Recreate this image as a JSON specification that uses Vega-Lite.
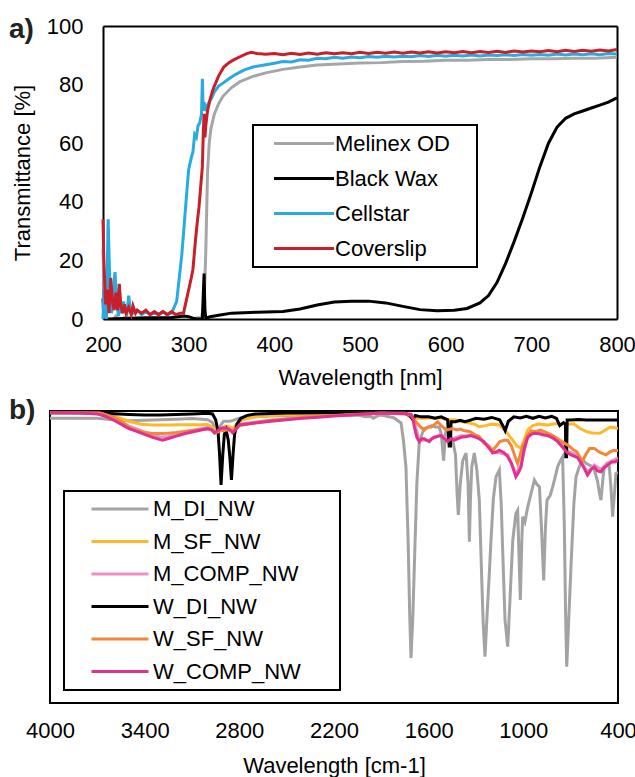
{
  "$schema": "https://vega.github.io/schema/vega-lite/v6.json",
  "padding": {"left": 8, "top": 15, "right": 0, "bottom": 0},
  "background": "white",
  "spacing": 8,
  "resolve": {"scale": {"color": "independent"}},
  "config": {
    "view": {"stroke": "black", "strokeWidth": 2},
    "font": "Liberation Sans",
    "axis": {"domain": false, "ticks": false, "grid": false, "labelFlush": false, "labelOverlap": false, "labelFont": "Liberation Sans", "labelFontSize": 22, "labelColor": "black", "titleFont": "Liberation Sans", "titleFontSize": 22, "titleFontWeight": "normal", "titleColor": "black"},
    "legend": {"labelFont": "Liberation Sans", "labelFontSize": 22, "labelColor": "black"}
  },
  "datasets": {
    "uv": [
      {"s":"Melinex OD","x":200,"t":24},{"s":"Melinex OD","x":202,"t":2},{"s":"Melinex OD","x":205,"t":0},{"s":"Melinex OD","x":210,"t":-1},{"s":"Melinex OD","x":215,"t":1},{"s":"Melinex OD","x":220,"t":-1},{"s":"Melinex OD","x":225,"t":0.5},{"s":"Melinex OD","x":240,"t":0},{"s":"Melinex OD","x":270,"t":0.3},{"s":"Melinex OD","x":300,"t":0},{"s":"Melinex OD","x":315,"t":0.5},{"s":"Melinex OD","x":318,"t":5},{"s":"Melinex OD","x":320,"t":23},{"s":"Melinex OD","x":322,"t":50},{"s":"Melinex OD","x":324,"t":60},{"s":"Melinex OD","x":326,"t":65},{"s":"Melinex OD","x":330,"t":70},{"s":"Melinex OD","x":335,"t":73.5},{"s":"Melinex OD","x":340,"t":76},{"s":"Melinex OD","x":350,"t":79},{"s":"Melinex OD","x":360,"t":81},{"s":"Melinex OD","x":375,"t":82.8},{"s":"Melinex OD","x":390,"t":84},{"s":"Melinex OD","x":410,"t":85.2},{"s":"Melinex OD","x":430,"t":86},{"s":"Melinex OD","x":450,"t":86.7},{"s":"Melinex OD","x":475,"t":87},{"s":"Melinex OD","x":500,"t":87.4},{"s":"Melinex OD","x":525,"t":87.5},{"s":"Melinex OD","x":550,"t":87.9},{"s":"Melinex OD","x":575,"t":88},{"s":"Melinex OD","x":600,"t":88.3},{"s":"Melinex OD","x":625,"t":88.3},{"s":"Melinex OD","x":650,"t":88.6},{"s":"Melinex OD","x":675,"t":88.6},{"s":"Melinex OD","x":700,"t":88.8},{"s":"Melinex OD","x":725,"t":88.8},{"s":"Melinex OD","x":750,"t":89},{"s":"Melinex OD","x":775,"t":89},{"s":"Melinex OD","x":800,"t":89.3},
      {"s":"Black Wax","x":200,"t":7},{"s":"Black Wax","x":201,"t":0},{"s":"Black Wax","x":205,"t":0},{"s":"Black Wax","x":250,"t":0.4},{"s":"Black Wax","x":280,"t":0.5},{"s":"Black Wax","x":295,"t":1},{"s":"Black Wax","x":300,"t":0.8},{"s":"Black Wax","x":305,"t":0.3},{"s":"Black Wax","x":310,"t":0},{"s":"Black Wax","x":316,"t":0},{"s":"Black Wax","x":317,"t":8},{"s":"Black Wax","x":318,"t":15.5},{"s":"Black Wax","x":319,"t":3},{"s":"Black Wax","x":320,"t":0.2},{"s":"Black Wax","x":325,"t":0.8},{"s":"Black Wax","x":335,"t":1.3},{"s":"Black Wax","x":350,"t":2},{"s":"Black Wax","x":380,"t":2.3},{"s":"Black Wax","x":410,"t":2.6},{"s":"Black Wax","x":430,"t":3.4},{"s":"Black Wax","x":450,"t":4.8},{"s":"Black Wax","x":470,"t":5.8},{"s":"Black Wax","x":490,"t":6.1},{"s":"Black Wax","x":510,"t":6.1},{"s":"Black Wax","x":530,"t":5.5},{"s":"Black Wax","x":550,"t":4.3},{"s":"Black Wax","x":570,"t":3.2},{"s":"Black Wax","x":590,"t":2.8},{"s":"Black Wax","x":610,"t":3},{"s":"Black Wax","x":625,"t":3.6},{"s":"Black Wax","x":640,"t":5.5},{"s":"Black Wax","x":650,"t":8},{"s":"Black Wax","x":660,"t":12.5},{"s":"Black Wax","x":670,"t":19},{"s":"Black Wax","x":680,"t":26.5},{"s":"Black Wax","x":690,"t":34.5},{"s":"Black Wax","x":700,"t":43},{"s":"Black Wax","x":710,"t":52},{"s":"Black Wax","x":720,"t":60},{"s":"Black Wax","x":730,"t":65.5},{"s":"Black Wax","x":740,"t":68.5},{"s":"Black Wax","x":750,"t":70},{"s":"Black Wax","x":760,"t":71},{"s":"Black Wax","x":770,"t":72},{"s":"Black Wax","x":780,"t":73},{"s":"Black Wax","x":790,"t":74},{"s":"Black Wax","x":800,"t":75.5},
      {"s":"Cellstar","x":200,"t":0},{"s":"Cellstar","x":201,"t":10},{"s":"Cellstar","x":202,"t":3},{"s":"Cellstar","x":204,"t":0},{"s":"Cellstar","x":206,"t":34},{"s":"Cellstar","x":208,"t":12},{"s":"Cellstar","x":210,"t":2},{"s":"Cellstar","x":212,"t":10},{"s":"Cellstar","x":214,"t":16},{"s":"Cellstar","x":216,"t":6},{"s":"Cellstar","x":218,"t":1},{"s":"Cellstar","x":220,"t":5},{"s":"Cellstar","x":222,"t":2},{"s":"Cellstar","x":224,"t":6},{"s":"Cellstar","x":226,"t":3},{"s":"Cellstar","x":228,"t":2},{"s":"Cellstar","x":230,"t":8},{"s":"Cellstar","x":232,"t":3},{"s":"Cellstar","x":235,"t":2},{"s":"Cellstar","x":240,"t":3},{"s":"Cellstar","x":245,"t":1.5},{"s":"Cellstar","x":250,"t":2.5},{"s":"Cellstar","x":255,"t":1.5},{"s":"Cellstar","x":260,"t":2},{"s":"Cellstar","x":265,"t":1.5},{"s":"Cellstar","x":270,"t":2.5},{"s":"Cellstar","x":275,"t":1.5},{"s":"Cellstar","x":280,"t":2},{"s":"Cellstar","x":283,"t":4},{"s":"Cellstar","x":286,"t":6},{"s":"Cellstar","x":289,"t":14},{"s":"Cellstar","x":292,"t":22},{"s":"Cellstar","x":295,"t":33},{"s":"Cellstar","x":298,"t":44},{"s":"Cellstar","x":300,"t":51},{"s":"Cellstar","x":303,"t":55},{"s":"Cellstar","x":305,"t":57},{"s":"Cellstar","x":307,"t":63},{"s":"Cellstar","x":309,"t":62},{"s":"Cellstar","x":311,"t":66},{"s":"Cellstar","x":313,"t":67},{"s":"Cellstar","x":315,"t":70},{"s":"Cellstar","x":316,"t":82},{"s":"Cellstar","x":317,"t":71},{"s":"Cellstar","x":318,"t":74},{"s":"Cellstar","x":320,"t":71},{"s":"Cellstar","x":322,"t":73},{"s":"Cellstar","x":326,"t":75},{"s":"Cellstar","x":330,"t":77.5},{"s":"Cellstar","x":335,"t":79.5},{"s":"Cellstar","x":340,"t":80.5},{"s":"Cellstar","x":347,"t":82},{"s":"Cellstar","x":355,"t":83.5},{"s":"Cellstar","x":365,"t":85},{"s":"Cellstar","x":375,"t":86},{"s":"Cellstar","x":390,"t":86.8},{"s":"Cellstar","x":400,"t":87.3},{"s":"Cellstar","x":410,"t":87.9},{"s":"Cellstar","x":420,"t":87.7},{"s":"Cellstar","x":430,"t":88.5},{"s":"Cellstar","x":440,"t":88.3},{"s":"Cellstar","x":450,"t":89},{"s":"Cellstar","x":460,"t":88.8},{"s":"Cellstar","x":470,"t":89.3},{"s":"Cellstar","x":480,"t":89},{"s":"Cellstar","x":490,"t":89.4},{"s":"Cellstar","x":500,"t":89.2},{"s":"Cellstar","x":510,"t":89.6},{"s":"Cellstar","x":520,"t":89.3},{"s":"Cellstar","x":530,"t":89.7},{"s":"Cellstar","x":540,"t":89.4},{"s":"Cellstar","x":550,"t":89.7},{"s":"Cellstar","x":560,"t":89.5},{"s":"Cellstar","x":570,"t":89.9},{"s":"Cellstar","x":580,"t":89.6},{"s":"Cellstar","x":590,"t":90},{"s":"Cellstar","x":600,"t":89.7},{"s":"Cellstar","x":610,"t":90},{"s":"Cellstar","x":620,"t":89.8},{"s":"Cellstar","x":630,"t":90.1},{"s":"Cellstar","x":640,"t":89.8},{"s":"Cellstar","x":650,"t":90.1},{"s":"Cellstar","x":660,"t":89.9},{"s":"Cellstar","x":670,"t":90.2},{"s":"Cellstar","x":680,"t":89.9},{"s":"Cellstar","x":690,"t":90.3},{"s":"Cellstar","x":700,"t":90},{"s":"Cellstar","x":710,"t":90.3},{"s":"Cellstar","x":720,"t":90},{"s":"Cellstar","x":730,"t":90.4},{"s":"Cellstar","x":740,"t":90.1},{"s":"Cellstar","x":750,"t":90.4},{"s":"Cellstar","x":760,"t":90.2},{"s":"Cellstar","x":770,"t":90.5},{"s":"Cellstar","x":780,"t":90.2},{"s":"Cellstar","x":790,"t":90.6},{"s":"Cellstar","x":800,"t":90.4},
      {"s":"Coverslip","x":200,"t":34},{"s":"Coverslip","x":201,"t":20},{"s":"Coverslip","x":203,"t":5},{"s":"Coverslip","x":205,"t":10},{"s":"Coverslip","x":207,"t":2},{"s":"Coverslip","x":209,"t":14},{"s":"Coverslip","x":211,"t":6},{"s":"Coverslip","x":213,"t":3},{"s":"Coverslip","x":215,"t":9},{"s":"Coverslip","x":217,"t":3},{"s":"Coverslip","x":219,"t":12},{"s":"Coverslip","x":221,"t":4},{"s":"Coverslip","x":223,"t":2},{"s":"Coverslip","x":225,"t":5},{"s":"Coverslip","x":227,"t":2},{"s":"Coverslip","x":230,"t":4},{"s":"Coverslip","x":233,"t":1.5},{"s":"Coverslip","x":235,"t":4.5},{"s":"Coverslip","x":238,"t":2},{"s":"Coverslip","x":240,"t":3},{"s":"Coverslip","x":245,"t":2},{"s":"Coverslip","x":250,"t":3},{"s":"Coverslip","x":255,"t":1.5},{"s":"Coverslip","x":260,"t":2.5},{"s":"Coverslip","x":265,"t":1.5},{"s":"Coverslip","x":270,"t":2.5},{"s":"Coverslip","x":275,"t":1.5},{"s":"Coverslip","x":280,"t":2.5},{"s":"Coverslip","x":285,"t":1.5},{"s":"Coverslip","x":290,"t":2},{"s":"Coverslip","x":294,"t":2},{"s":"Coverslip","x":297,"t":6},{"s":"Coverslip","x":300,"t":10},{"s":"Coverslip","x":303,"t":14},{"s":"Coverslip","x":305,"t":17},{"s":"Coverslip","x":308,"t":27},{"s":"Coverslip","x":310,"t":33},{"s":"Coverslip","x":312,"t":38},{"s":"Coverslip","x":314,"t":45},{"s":"Coverslip","x":316,"t":52},{"s":"Coverslip","x":317,"t":63},{"s":"Coverslip","x":318,"t":70},{"s":"Coverslip","x":319,"t":62},{"s":"Coverslip","x":320,"t":66},{"s":"Coverslip","x":322,"t":71},{"s":"Coverslip","x":325,"t":75},{"s":"Coverslip","x":328,"t":78},{"s":"Coverslip","x":330,"t":79.5},{"s":"Coverslip","x":335,"t":83},{"s":"Coverslip","x":341,"t":86},{"s":"Coverslip","x":347,"t":87.5},{"s":"Coverslip","x":353,"t":88.5},{"s":"Coverslip","x":360,"t":89.5},{"s":"Coverslip","x":367,"t":90.5},{"s":"Coverslip","x":373,"t":91},{"s":"Coverslip","x":380,"t":90.6},{"s":"Coverslip","x":390,"t":90.4},{"s":"Coverslip","x":400,"t":90.6},{"s":"Coverslip","x":410,"t":90.2},{"s":"Coverslip","x":420,"t":90.7},{"s":"Coverslip","x":430,"t":90.3},{"s":"Coverslip","x":440,"t":90.8},{"s":"Coverslip","x":450,"t":90.4},{"s":"Coverslip","x":460,"t":90.9},{"s":"Coverslip","x":470,"t":90.5},{"s":"Coverslip","x":480,"t":90.9},{"s":"Coverslip","x":490,"t":90.5},{"s":"Coverslip","x":500,"t":91},{"s":"Coverslip","x":510,"t":90.6},{"s":"Coverslip","x":520,"t":91},{"s":"Coverslip","x":530,"t":90.7},{"s":"Coverslip","x":540,"t":91.1},{"s":"Coverslip","x":550,"t":90.7},{"s":"Coverslip","x":560,"t":91.1},{"s":"Coverslip","x":570,"t":90.8},{"s":"Coverslip","x":580,"t":91.2},{"s":"Coverslip","x":590,"t":90.8},{"s":"Coverslip","x":600,"t":91.2},{"s":"Coverslip","x":610,"t":90.9},{"s":"Coverslip","x":620,"t":91.3},{"s":"Coverslip","x":630,"t":90.9},{"s":"Coverslip","x":640,"t":91.3},{"s":"Coverslip","x":650,"t":91},{"s":"Coverslip","x":660,"t":91.4},{"s":"Coverslip","x":670,"t":91},{"s":"Coverslip","x":680,"t":91.5},{"s":"Coverslip","x":690,"t":91.1},{"s":"Coverslip","x":700,"t":91.5},{"s":"Coverslip","x":710,"t":91.2},{"s":"Coverslip","x":720,"t":91.6},{"s":"Coverslip","x":730,"t":91.2},{"s":"Coverslip","x":740,"t":91.7},{"s":"Coverslip","x":750,"t":91.3},{"s":"Coverslip","x":760,"t":91.7},{"s":"Coverslip","x":770,"t":91.4},{"s":"Coverslip","x":780,"t":91.8},{"s":"Coverslip","x":790,"t":91.5},{"s":"Coverslip","x":800,"t":92}
    ],
    "ir": [
      {"s":"M_DI_NW","w":4000,"t":97.5},{"s":"M_DI_NW","w":3900,"t":97.5},{"s":"M_DI_NW","w":3700,"t":97.5},{"s":"M_DI_NW","w":3600,"t":97},{"s":"M_DI_NW","w":3500,"t":96.7},{"s":"M_DI_NW","w":3400,"t":96.8},{"s":"M_DI_NW","w":3300,"t":97},{"s":"M_DI_NW","w":3200,"t":97.2},{"s":"M_DI_NW","w":3100,"t":97.4},{"s":"M_DI_NW","w":3000,"t":97},{"s":"M_DI_NW","w":2970,"t":96},{"s":"M_DI_NW","w":2950,"t":93},{"s":"M_DI_NW","w":2935,"t":92.5},{"s":"M_DI_NW","w":2920,"t":95},{"s":"M_DI_NW","w":2900,"t":96.5},{"s":"M_DI_NW","w":2860,"t":96.5},{"s":"M_DI_NW","w":2840,"t":96.8},{"s":"M_DI_NW","w":2800,"t":97.5},{"s":"M_DI_NW","w":2700,"t":98},{"s":"M_DI_NW","w":2600,"t":98.3},{"s":"M_DI_NW","w":2500,"t":98.5},{"s":"M_DI_NW","w":2400,"t":98.6},{"s":"M_DI_NW","w":2300,"t":98.7},{"s":"M_DI_NW","w":2200,"t":98.8},{"s":"M_DI_NW","w":2100,"t":98.5},{"s":"M_DI_NW","w":2050,"t":98.6},{"s":"M_DI_NW","w":2000,"t":98},{"s":"M_DI_NW","w":1970,"t":98.2},{"s":"M_DI_NW","w":1950,"t":97.5},{"s":"M_DI_NW","w":1920,"t":98.5},{"s":"M_DI_NW","w":1902,"t":98.6},{"s":"M_DI_NW","w":1850,"t":98},{"s":"M_DI_NW","w":1818,"t":97.6},{"s":"M_DI_NW","w":1790,"t":96.5},{"s":"M_DI_NW","w":1775,"t":95.9},{"s":"M_DI_NW","w":1760,"t":90},{"s":"M_DI_NW","w":1744,"t":80.8},{"s":"M_DI_NW","w":1730,"t":55},{"s":"M_DI_NW","w":1720,"t":30},{"s":"M_DI_NW","w":1712,"t":15.4},{"s":"M_DI_NW","w":1700,"t":30},{"s":"M_DI_NW","w":1691,"t":46.6},{"s":"M_DI_NW","w":1675,"t":75},{"s":"M_DI_NW","w":1660,"t":89},{"s":"M_DI_NW","w":1640,"t":92.5},{"s":"M_DI_NW","w":1628,"t":94},{"s":"M_DI_NW","w":1600,"t":94.5},{"s":"M_DI_NW","w":1580,"t":95},{"s":"M_DI_NW","w":1560,"t":94.5},{"s":"M_DI_NW","w":1533,"t":94.5},{"s":"M_DI_NW","w":1520,"t":92},{"s":"M_DI_NW","w":1505,"t":83},{"s":"M_DI_NW","w":1495,"t":91},{"s":"M_DI_NW","w":1490,"t":93.5},{"s":"M_DI_NW","w":1470,"t":92},{"s":"M_DI_NW","w":1448,"t":90},{"s":"M_DI_NW","w":1430,"t":85},{"s":"M_DI_NW","w":1420,"t":72},{"s":"M_DI_NW","w":1412,"t":64.4},{"s":"M_DI_NW","w":1400,"t":75},{"s":"M_DI_NW","w":1384,"t":83},{"s":"M_DI_NW","w":1363,"t":85.6},{"s":"M_DI_NW","w":1350,"t":75},{"s":"M_DI_NW","w":1342,"t":55.2},{"s":"M_DI_NW","w":1335,"t":70},{"s":"M_DI_NW","w":1327,"t":80.8},{"s":"M_DI_NW","w":1311,"t":85.6},{"s":"M_DI_NW","w":1295,"t":80},{"s":"M_DI_NW","w":1279,"t":69.5},{"s":"M_DI_NW","w":1265,"t":45},{"s":"M_DI_NW","w":1255,"t":28},{"s":"M_DI_NW","w":1243,"t":15.9},{"s":"M_DI_NW","w":1230,"t":30},{"s":"M_DI_NW","w":1215,"t":45},{"s":"M_DI_NW","w":1205,"t":55.8},{"s":"M_DI_NW","w":1190,"t":70},{"s":"M_DI_NW","w":1173,"t":77.5},{"s":"M_DI_NW","w":1152,"t":79.8},{"s":"M_DI_NW","w":1140,"t":68},{"s":"M_DI_NW","w":1131,"t":52.4},{"s":"M_DI_NW","w":1116,"t":28.4},{"s":"M_DI_NW","w":1099,"t":19.3},{"s":"M_DI_NW","w":1085,"t":35},{"s":"M_DI_NW","w":1067,"t":55.8},{"s":"M_DI_NW","w":1047,"t":65},{"s":"M_DI_NW","w":1036,"t":66},{"s":"M_DI_NW","w":1027,"t":50},{"s":"M_DI_NW","w":1019,"t":35.3},{"s":"M_DI_NW","w":1010,"t":55},{"s":"M_DI_NW","w":1004,"t":63.8},{"s":"M_DI_NW","w":990,"t":62},{"s":"M_DI_NW","w":972,"t":67.2},{"s":"M_DI_NW","w":950,"t":72},{"s":"M_DI_NW","w":930,"t":76.4},{"s":"M_DI_NW","w":915,"t":75},{"s":"M_DI_NW","w":898,"t":74},{"s":"M_DI_NW","w":885,"t":60},{"s":"M_DI_NW","w":871,"t":42},{"s":"M_DI_NW","w":860,"t":60},{"s":"M_DI_NW","w":850,"t":69.5},{"s":"M_DI_NW","w":830,"t":71},{"s":"M_DI_NW","w":814,"t":74},{"s":"M_DI_NW","w":800,"t":77},{"s":"M_DI_NW","w":782,"t":81},{"s":"M_DI_NW","w":765,"t":83},{"s":"M_DI_NW","w":751,"t":84.3},{"s":"M_DI_NW","w":740,"t":60},{"s":"M_DI_NW","w":732,"t":30},{"s":"M_DI_NW","w":725,"t":12.4},{"s":"M_DI_NW","w":715,"t":25},{"s":"M_DI_NW","w":698,"t":46.7},{"s":"M_DI_NW","w":680,"t":68},{"s":"M_DI_NW","w":666,"t":77.5},{"s":"M_DI_NW","w":645,"t":81},{"s":"M_DI_NW","w":624,"t":83.2},{"s":"M_DI_NW","w":600,"t":82},{"s":"M_DI_NW","w":582,"t":81.5},{"s":"M_DI_NW","w":565,"t":81},{"s":"M_DI_NW","w":550,"t":79.8},{"s":"M_DI_NW","w":530,"t":76},{"s":"M_DI_NW","w":518,"t":72},{"s":"M_DI_NW","w":508,"t":69.5},{"s":"M_DI_NW","w":497,"t":76},{"s":"M_DI_NW","w":487,"t":81},{"s":"M_DI_NW","w":470,"t":82},{"s":"M_DI_NW","w":455,"t":81},{"s":"M_DI_NW","w":445,"t":74},{"s":"M_DI_NW","w":434,"t":63.8},{"s":"M_DI_NW","w":425,"t":70},{"s":"M_DI_NW","w":413,"t":78.6},{"s":"M_DI_NW","w":400,"t":79},
      {"s":"M_SF_NW","w":4000,"t":99.4},{"s":"M_SF_NW","w":3700,"t":99.3},{"s":"M_SF_NW","w":3600,"t":98.5},{"s":"M_SF_NW","w":3571,"t":97.8},{"s":"M_SF_NW","w":3500,"t":96.5},{"s":"M_SF_NW","w":3423,"t":95.5},{"s":"M_SF_NW","w":3350,"t":95.2},{"s":"M_SF_NW","w":3250,"t":95.2},{"s":"M_SF_NW","w":3150,"t":95.3},{"s":"M_SF_NW","w":3050,"t":95.3},{"s":"M_SF_NW","w":3000,"t":95.4},{"s":"M_SF_NW","w":2960,"t":94},{"s":"M_SF_NW","w":2935,"t":92.5},{"s":"M_SF_NW","w":2915,"t":93.5},{"s":"M_SF_NW","w":2890,"t":94.8},{"s":"M_SF_NW","w":2860,"t":94.5},{"s":"M_SF_NW","w":2840,"t":94},{"s":"M_SF_NW","w":2820,"t":95.5},{"s":"M_SF_NW","w":2780,"t":97},{"s":"M_SF_NW","w":2700,"t":98},{"s":"M_SF_NW","w":2600,"t":98.5},{"s":"M_SF_NW","w":2400,"t":99},{"s":"M_SF_NW","w":2200,"t":99.2},{"s":"M_SF_NW","w":1902,"t":99.3},{"s":"M_SF_NW","w":1750,"t":99.2},{"s":"M_SF_NW","w":1720,"t":98},{"s":"M_SF_NW","w":1691,"t":97.6},{"s":"M_SF_NW","w":1650,"t":97.5},{"s":"M_SF_NW","w":1585,"t":97.6},{"s":"M_SF_NW","w":1520,"t":97.6},{"s":"M_SF_NW","w":1480,"t":97},{"s":"M_SF_NW","w":1437,"t":97},{"s":"M_SF_NW","w":1400,"t":96.5},{"s":"M_SF_NW","w":1350,"t":96},{"s":"M_SF_NW","w":1310,"t":95.5},{"s":"M_SF_NW","w":1279,"t":94.6},{"s":"M_SF_NW","w":1240,"t":95},{"s":"M_SF_NW","w":1200,"t":95.5},{"s":"M_SF_NW","w":1152,"t":95.2},{"s":"M_SF_NW","w":1110,"t":93},{"s":"M_SF_NW","w":1068,"t":90},{"s":"M_SF_NW","w":1040,"t":88},{"s":"M_SF_NW","w":1015,"t":87.3},{"s":"M_SF_NW","w":995,"t":90},{"s":"M_SF_NW","w":972,"t":93.5},{"s":"M_SF_NW","w":940,"t":95},{"s":"M_SF_NW","w":900,"t":95.5},{"s":"M_SF_NW","w":846,"t":95.2},{"s":"M_SF_NW","w":800,"t":95.6},{"s":"M_SF_NW","w":769,"t":95.6},{"s":"M_SF_NW","w":720,"t":95.5},{"s":"M_SF_NW","w":681,"t":95.6},{"s":"M_SF_NW","w":640,"t":94},{"s":"M_SF_NW","w":597,"t":92.9},{"s":"M_SF_NW","w":560,"t":92.5},{"s":"M_SF_NW","w":513,"t":92.4},{"s":"M_SF_NW","w":480,"t":93.5},{"s":"M_SF_NW","w":450,"t":94.5},{"s":"M_SF_NW","w":420,"t":94.3},{"s":"M_SF_NW","w":400,"t":94},
      {"s":"M_COMP_NW","w":4000,"t":99.5},{"s":"M_COMP_NW","w":3800,"t":99.4},{"s":"M_COMP_NW","w":3700,"t":99.1},{"s":"M_COMP_NW","w":3600,"t":97.5},{"s":"M_COMP_NW","w":3500,"t":94.8},{"s":"M_COMP_NW","w":3400,"t":92.8},{"s":"M_COMP_NW","w":3300,"t":91},{"s":"M_COMP_NW","w":3250,"t":91.3},{"s":"M_COMP_NW","w":3150,"t":92.8},{"s":"M_COMP_NW","w":3000,"t":94.4},{"s":"M_COMP_NW","w":2958,"t":93},{"s":"M_COMP_NW","w":2900,"t":94.5},{"s":"M_COMP_NW","w":2842,"t":93},{"s":"M_COMP_NW","w":2800,"t":95.5},{"s":"M_COMP_NW","w":2600,"t":96.8},{"s":"M_COMP_NW","w":2400,"t":97.8},{"s":"M_COMP_NW","w":2200,"t":98.5},{"s":"M_COMP_NW","w":2000,"t":99.1},{"s":"M_COMP_NW","w":1750,"t":99.2},{"s":"M_COMP_NW","w":1700,"t":97.8},{"s":"M_COMP_NW","w":1660,"t":90},{"s":"M_COMP_NW","w":1596,"t":90},{"s":"M_COMP_NW","w":1522,"t":92},{"s":"M_COMP_NW","w":1480,"t":90},{"s":"M_COMP_NW","w":1395,"t":91.5},{"s":"M_COMP_NW","w":1300,"t":91.5},{"s":"M_COMP_NW","w":1226,"t":88.3},{"s":"M_COMP_NW","w":1194,"t":86.2},{"s":"M_COMP_NW","w":1099,"t":85},{"s":"M_COMP_NW","w":1047,"t":78.5},{"s":"M_COMP_NW","w":1015,"t":81.5},{"s":"M_COMP_NW","w":972,"t":91.5},{"s":"M_COMP_NW","w":930,"t":92.8},{"s":"M_COMP_NW","w":846,"t":92},{"s":"M_COMP_NW","w":782,"t":90},{"s":"M_COMP_NW","w":719,"t":86.3},{"s":"M_COMP_NW","w":656,"t":84.7},{"s":"M_COMP_NW","w":593,"t":79},{"s":"M_COMP_NW","w":550,"t":81.5},{"s":"M_COMP_NW","w":508,"t":80},{"s":"M_COMP_NW","w":466,"t":82.2},{"s":"M_COMP_NW","w":400,"t":84},
      {"s":"W_DI_NW","w":4000,"t":99.4},{"s":"W_DI_NW","w":3800,"t":99.4},{"s":"W_DI_NW","w":3650,"t":99.2},{"s":"W_DI_NW","w":3500,"t":98.8},{"s":"W_DI_NW","w":3400,"t":98.6},{"s":"W_DI_NW","w":3300,"t":98.6},{"s":"W_DI_NW","w":3200,"t":98.8},{"s":"W_DI_NW","w":3100,"t":99},{"s":"W_DI_NW","w":3000,"t":99.2},{"s":"W_DI_NW","w":2970,"t":99},{"s":"W_DI_NW","w":2950,"t":97},{"s":"W_DI_NW","w":2935,"t":93},{"s":"W_DI_NW","w":2925,"t":85},{"s":"W_DI_NW","w":2916,"t":74.7},{"s":"W_DI_NW","w":2905,"t":85},{"s":"W_DI_NW","w":2895,"t":92},{"s":"W_DI_NW","w":2884,"t":93.5},{"s":"W_DI_NW","w":2870,"t":90},{"s":"W_DI_NW","w":2860,"t":84},{"s":"W_DI_NW","w":2850,"t":76.4},{"s":"W_DI_NW","w":2840,"t":85},{"s":"W_DI_NW","w":2830,"t":92},{"s":"W_DI_NW","w":2815,"t":95.5},{"s":"W_DI_NW","w":2790,"t":97.5},{"s":"W_DI_NW","w":2750,"t":98.5},{"s":"W_DI_NW","w":2700,"t":99},{"s":"W_DI_NW","w":2500,"t":99.3},{"s":"W_DI_NW","w":2200,"t":99.4},{"s":"W_DI_NW","w":1902,"t":99.3},{"s":"W_DI_NW","w":1750,"t":99.2},{"s":"W_DI_NW","w":1720,"t":98.5},{"s":"W_DI_NW","w":1700,"t":97},{"s":"W_DI_NW","w":1685,"t":98.5},{"s":"W_DI_NW","w":1650,"t":98},{"s":"W_DI_NW","w":1600,"t":98},{"s":"W_DI_NW","w":1560,"t":97.5},{"s":"W_DI_NW","w":1520,"t":98},{"s":"W_DI_NW","w":1500,"t":97.5},{"s":"W_DI_NW","w":1480,"t":97},{"s":"W_DI_NW","w":1470,"t":88},{"s":"W_DI_NW","w":1462,"t":88},{"s":"W_DI_NW","w":1458,"t":96.3},{"s":"W_DI_NW","w":1430,"t":96.3},{"s":"W_DI_NW","w":1400,"t":96.8},{"s":"W_DI_NW","w":1370,"t":96.3},{"s":"W_DI_NW","w":1340,"t":96.8},{"s":"W_DI_NW","w":1300,"t":97.5},{"s":"W_DI_NW","w":1250,"t":97.2},{"s":"W_DI_NW","w":1200,"t":97.8},{"s":"W_DI_NW","w":1150,"t":97},{"s":"W_DI_NW","w":1125,"t":94.5},{"s":"W_DI_NW","w":1115,"t":93.3},{"s":"W_DI_NW","w":1095,"t":96.5},{"s":"W_DI_NW","w":1060,"t":98},{"s":"W_DI_NW","w":1020,"t":97.6},{"s":"W_DI_NW","w":980,"t":98.2},{"s":"W_DI_NW","w":940,"t":97.5},{"s":"W_DI_NW","w":900,"t":98.2},{"s":"W_DI_NW","w":860,"t":97.6},{"s":"W_DI_NW","w":820,"t":98.2},{"s":"W_DI_NW","w":790,"t":97.5},{"s":"W_DI_NW","w":769,"t":95},{"s":"W_DI_NW","w":745,"t":96},{"s":"W_DI_NW","w":733,"t":95.5},{"s":"W_DI_NW","w":731,"t":84.3},{"s":"W_DI_NW","w":726,"t":84.3},{"s":"W_DI_NW","w":722,"t":96.9},{"s":"W_DI_NW","w":698,"t":96.9},{"s":"W_DI_NW","w":650,"t":97.1},{"s":"W_DI_NW","w":600,"t":96.9},{"s":"W_DI_NW","w":500,"t":96.9},{"s":"W_DI_NW","w":400,"t":96.9},
      {"s":"W_SF_NW","w":4000,"t":99.4},{"s":"W_SF_NW","w":3800,"t":99.4},{"s":"W_SF_NW","w":3680,"t":99.3},{"s":"W_SF_NW","w":3600,"t":98},{"s":"W_SF_NW","w":3550,"t":96.5},{"s":"W_SF_NW","w":3500,"t":94.5},{"s":"W_SF_NW","w":3450,"t":93.3},{"s":"W_SF_NW","w":3400,"t":92.6},{"s":"W_SF_NW","w":3350,"t":92.3},{"s":"W_SF_NW","w":3300,"t":92.3},{"s":"W_SF_NW","w":3250,"t":92.4},{"s":"W_SF_NW","w":3200,"t":92.6},{"s":"W_SF_NW","w":3150,"t":93},{"s":"W_SF_NW","w":3100,"t":93.3},{"s":"W_SF_NW","w":3050,"t":93.6},{"s":"W_SF_NW","w":3000,"t":93.8},{"s":"W_SF_NW","w":2970,"t":93.5},{"s":"W_SF_NW","w":2950,"t":92.5},{"s":"W_SF_NW","w":2930,"t":93},{"s":"W_SF_NW","w":2915,"t":93.5},{"s":"W_SF_NW","w":2900,"t":93.2},{"s":"W_SF_NW","w":2880,"t":93.6},{"s":"W_SF_NW","w":2860,"t":93.5},{"s":"W_SF_NW","w":2840,"t":93},{"s":"W_SF_NW","w":2820,"t":94},{"s":"W_SF_NW","w":2800,"t":95},{"s":"W_SF_NW","w":2700,"t":96},{"s":"W_SF_NW","w":2600,"t":96.8},{"s":"W_SF_NW","w":2500,"t":97.3},{"s":"W_SF_NW","w":2400,"t":97.8},{"s":"W_SF_NW","w":2300,"t":98.2},{"s":"W_SF_NW","w":2200,"t":98.5},{"s":"W_SF_NW","w":2100,"t":98.8},{"s":"W_SF_NW","w":2000,"t":99},{"s":"W_SF_NW","w":1902,"t":99.2},{"s":"W_SF_NW","w":1750,"t":99.1},{"s":"W_SF_NW","w":1712,"t":98.5},{"s":"W_SF_NW","w":1691,"t":96.9},{"s":"W_SF_NW","w":1660,"t":95},{"s":"W_SF_NW","w":1640,"t":94},{"s":"W_SF_NW","w":1628,"t":93.5},{"s":"W_SF_NW","w":1605,"t":94.5},{"s":"W_SF_NW","w":1585,"t":94.5},{"s":"W_SF_NW","w":1560,"t":95.5},{"s":"W_SF_NW","w":1543,"t":96.3},{"s":"W_SF_NW","w":1520,"t":95},{"s":"W_SF_NW","w":1500,"t":94},{"s":"W_SF_NW","w":1480,"t":93.5},{"s":"W_SF_NW","w":1450,"t":94},{"s":"W_SF_NW","w":1420,"t":93.5},{"s":"W_SF_NW","w":1400,"t":93.8},{"s":"W_SF_NW","w":1374,"t":93.2},{"s":"W_SF_NW","w":1340,"t":93},{"s":"W_SF_NW","w":1310,"t":92},{"s":"W_SF_NW","w":1279,"t":91.2},{"s":"W_SF_NW","w":1250,"t":89},{"s":"W_SF_NW","w":1220,"t":88},{"s":"W_SF_NW","w":1194,"t":86.6},{"s":"W_SF_NW","w":1170,"t":88},{"s":"W_SF_NW","w":1150,"t":89.5},{"s":"W_SF_NW","w":1120,"t":90},{"s":"W_SF_NW","w":1099,"t":90},{"s":"W_SF_NW","w":1075,"t":88},{"s":"W_SF_NW","w":1050,"t":84},{"s":"W_SF_NW","w":1036,"t":82},{"s":"W_SF_NW","w":1020,"t":85},{"s":"W_SF_NW","w":1005,"t":88},{"s":"W_SF_NW","w":994,"t":88.9},{"s":"W_SF_NW","w":975,"t":91.5},{"s":"W_SF_NW","w":951,"t":93.2},{"s":"W_SF_NW","w":920,"t":93},{"s":"W_SF_NW","w":890,"t":93.5},{"s":"W_SF_NW","w":846,"t":92.4},{"s":"W_SF_NW","w":810,"t":91.5},{"s":"W_SF_NW","w":769,"t":90},{"s":"W_SF_NW","w":740,"t":89},{"s":"W_SF_NW","w":710,"t":88},{"s":"W_SF_NW","w":681,"t":86.6},{"s":"W_SF_NW","w":660,"t":86},{"s":"W_SF_NW","w":640,"t":84},{"s":"W_SF_NW","w":624,"t":82.9},{"s":"W_SF_NW","w":605,"t":85},{"s":"W_SF_NW","w":580,"t":87.2},{"s":"W_SF_NW","w":550,"t":87.2},{"s":"W_SF_NW","w":520,"t":86},{"s":"W_SF_NW","w":500,"t":85.5},{"s":"W_SF_NW","w":476,"t":85},{"s":"W_SF_NW","w":450,"t":86},{"s":"W_SF_NW","w":430,"t":86.5},{"s":"W_SF_NW","w":400,"t":86.5},
      {"s":"W_COMP_NW","w":4000,"t":99.4},{"s":"W_COMP_NW","w":3900,"t":99.4},{"s":"W_COMP_NW","w":3800,"t":99.3},{"s":"W_COMP_NW","w":3700,"t":99},{"s":"W_COMP_NW","w":3650,"t":98.2},{"s":"W_COMP_NW","w":3600,"t":97},{"s":"W_COMP_NW","w":3550,"t":95.5},{"s":"W_COMP_NW","w":3500,"t":94},{"s":"W_COMP_NW","w":3450,"t":93},{"s":"W_COMP_NW","w":3400,"t":92},{"s":"W_COMP_NW","w":3350,"t":91},{"s":"W_COMP_NW","w":3300,"t":90.2},{"s":"W_COMP_NW","w":3286,"t":90},{"s":"W_COMP_NW","w":3250,"t":90.6},{"s":"W_COMP_NW","w":3200,"t":91.4},{"s":"W_COMP_NW","w":3150,"t":92.2},{"s":"W_COMP_NW","w":3100,"t":92.8},{"s":"W_COMP_NW","w":3050,"t":93.4},{"s":"W_COMP_NW","w":3000,"t":94},{"s":"W_COMP_NW","w":2975,"t":93.6},{"s":"W_COMP_NW","w":2958,"t":92.5},{"s":"W_COMP_NW","w":2940,"t":93.2},{"s":"W_COMP_NW","w":2920,"t":94},{"s":"W_COMP_NW","w":2900,"t":94.2},{"s":"W_COMP_NW","w":2880,"t":94.2},{"s":"W_COMP_NW","w":2860,"t":93.5},{"s":"W_COMP_NW","w":2842,"t":92.5},{"s":"W_COMP_NW","w":2820,"t":93.8},{"s":"W_COMP_NW","w":2800,"t":95.2},{"s":"W_COMP_NW","w":2700,"t":95.9},{"s":"W_COMP_NW","w":2600,"t":96.5},{"s":"W_COMP_NW","w":2500,"t":97},{"s":"W_COMP_NW","w":2400,"t":97.5},{"s":"W_COMP_NW","w":2300,"t":97.9},{"s":"W_COMP_NW","w":2200,"t":98.3},{"s":"W_COMP_NW","w":2100,"t":98.6},{"s":"W_COMP_NW","w":2000,"t":99},{"s":"W_COMP_NW","w":1902,"t":99.3},{"s":"W_COMP_NW","w":1750,"t":99.1},{"s":"W_COMP_NW","w":1712,"t":98.9},{"s":"W_COMP_NW","w":1700,"t":97.5},{"s":"W_COMP_NW","w":1691,"t":94.6},{"s":"W_COMP_NW","w":1675,"t":91},{"s":"W_COMP_NW","w":1660,"t":89.5},{"s":"W_COMP_NW","w":1645,"t":90.5},{"s":"W_COMP_NW","w":1628,"t":90.5},{"s":"W_COMP_NW","w":1612,"t":90},{"s":"W_COMP_NW","w":1596,"t":89.5},{"s":"W_COMP_NW","w":1580,"t":90.5},{"s":"W_COMP_NW","w":1564,"t":91},{"s":"W_COMP_NW","w":1540,"t":91.3},{"s":"W_COMP_NW","w":1522,"t":91.6},{"s":"W_COMP_NW","w":1500,"t":90.5},{"s":"W_COMP_NW","w":1480,"t":89.5},{"s":"W_COMP_NW","w":1460,"t":90.5},{"s":"W_COMP_NW","w":1437,"t":90},{"s":"W_COMP_NW","w":1415,"t":90.5},{"s":"W_COMP_NW","w":1395,"t":91},{"s":"W_COMP_NW","w":1360,"t":91.3},{"s":"W_COMP_NW","w":1332,"t":91.6},{"s":"W_COMP_NW","w":1300,"t":91},{"s":"W_COMP_NW","w":1279,"t":90.5},{"s":"W_COMP_NW","w":1250,"t":89.5},{"s":"W_COMP_NW","w":1226,"t":87.8},{"s":"W_COMP_NW","w":1210,"t":86.8},{"s":"W_COMP_NW","w":1194,"t":85.6},{"s":"W_COMP_NW","w":1170,"t":86},{"s":"W_COMP_NW","w":1152,"t":86.6},{"s":"W_COMP_NW","w":1125,"t":85.8},{"s":"W_COMP_NW","w":1099,"t":84.4},{"s":"W_COMP_NW","w":1075,"t":82},{"s":"W_COMP_NW","w":1060,"t":79.5},{"s":"W_COMP_NW","w":1047,"t":77.5},{"s":"W_COMP_NW","w":1030,"t":79},{"s":"W_COMP_NW","w":1015,"t":80.8},{"s":"W_COMP_NW","w":995,"t":87},{"s":"W_COMP_NW","w":972,"t":91},{"s":"W_COMP_NW","w":950,"t":92},{"s":"W_COMP_NW","w":930,"t":92.4},{"s":"W_COMP_NW","w":900,"t":92.2},{"s":"W_COMP_NW","w":870,"t":91.8},{"s":"W_COMP_NW","w":846,"t":91.6},{"s":"W_COMP_NW","w":815,"t":90.8},{"s":"W_COMP_NW","w":782,"t":89.5},{"s":"W_COMP_NW","w":750,"t":87.5},{"s":"W_COMP_NW","w":719,"t":85.6},{"s":"W_COMP_NW","w":690,"t":84.8},{"s":"W_COMP_NW","w":656,"t":84},{"s":"W_COMP_NW","w":620,"t":81},{"s":"W_COMP_NW","w":593,"t":78.1},{"s":"W_COMP_NW","w":570,"t":80},{"s":"W_COMP_NW","w":550,"t":80.8},{"s":"W_COMP_NW","w":530,"t":79.5},{"s":"W_COMP_NW","w":508,"t":79.2},{"s":"W_COMP_NW","w":490,"t":80.5},{"s":"W_COMP_NW","w":466,"t":81.5},{"s":"W_COMP_NW","w":440,"t":82.5},{"s":"W_COMP_NW","w":420,"t":82.5},{"s":"W_COMP_NW","w":400,"t":83.2}
    ]
  },
  "vconcat": [
    {
      "width": 567,
      "height": 293,
      "view": {"stroke": null},
      "title": {"text": "a)", "anchor": "start", "frame": "group", "dx": -41, "fontSize": 28, "fontWeight": "bold", "font": "Liberation Sans", "color": "#222222", "offset": -29},
      "data": {"name": "uv"},
      "layer": [
        {
          "mark": {"type": "line", "strokeWidth": 3, "clip": true},
          "encoding": {
            "x": {"field": "x", "type": "quantitative", "scale": {"domain": [200, 800], "nice": false, "range": [53, 567]}, "axis": {"title": "Wavelength [nm]", "values": [200, 300, 400, 500, 600, 700, 800], "labelPadding": 15, "titlePadding": 12, "domain": true, "domainColor": "black", "domainWidth": 2}},
            "y": {"field": "t", "type": "quantitative", "scale": {"domain": [0, 100], "nice": false}, "axis": {"title": "Transmittance [%]", "values": [0, 20, 40, 60, 80, 100], "labelPadding": 20, "titlePadding": 12, "offset": -53, "domain": true, "domainColor": "black", "domainWidth": 2}},
            "color": {"field": "s", "type": "nominal", "scale": {"domain": ["Melinex OD", "Black Wax", "Cellstar", "Coverslip"], "range": ["#a6a6a6", "#000000", "#29abe2", "#c8202b"]},
              "legend": {"title": null, "orient": "none", "legendX": 203, "legendY": 99, "symbolType": "M-3,0H3M16,0", "symbolSize": 400, "symbolStrokeWidth": 3, "symbolOffset": 32.5, "labelOffset": 19.5, "rowPadding": 12, "padding": 7, "strokeColor": "black", "fillColor": "white",
                "encode": {"legend": {"update": {"strokeWidth": {"value": 2}}}}}}
          }
        },
        {
          "mark": {"type": "line", "strokeOpacity": 0},
          "encoding": {
            "x": {"field": "x", "type": "quantitative", "axis": {"orient": "top", "labels": false, "title": null, "domain": true, "domainColor": "black", "domainWidth": 2}},
            "y": {"field": "t", "type": "quantitative", "axis": {"orient": "right", "labels": false, "title": null, "domain": true, "domainColor": "black", "domainWidth": 2}}
          }
        }
      ],
      "resolve": {"axis": {"x": "independent", "y": "independent"}}
    },
    {
      "width": 568,
      "height": 292,
      "title": {"text": "b)", "anchor": "start", "frame": "group", "dx": -41, "fontSize": 28, "fontWeight": "bold", "font": "Liberation Sans", "color": "#222222", "offset": -14},
      "data": {"name": "ir"},
      "mark": {"type": "line", "strokeWidth": 3, "clip": true},
      "encoding": {
        "x": {"field": "w", "type": "quantitative", "scale": {"domain": [400, 4000], "nice": false, "reverse": true}, "axis": {"title": "Wavelength [cm-1]", "values": [4000, 3400, 2800, 2200, 1600, 1000, 400], "format": "d", "labelPadding": 17, "titlePadding": 14}},
        "y": {"field": "t", "type": "quantitative", "scale": {"domain": [0, 100], "nice": false}, "axis": null},
        "color": {"field": "s", "type": "nominal", "scale": {"domain": ["M_DI_NW", "M_SF_NW", "M_COMP_NW", "W_DI_NW", "W_SF_NW", "W_COMP_NW"], "range": ["#a3a3a3", "#fdb92a", "#ec90c4", "#000000", "#f4863c", "#e0318e"]},
          "legend": {"title": null, "orient": "none", "legendX": 14, "legendY": 80, "symbolType": "M-3,0H3M21.7,0", "symbolSize": 361, "symbolStrokeWidth": 3, "symbolOffset": 38, "labelOffset": 22, "rowPadding": 10.5, "padding": 7, "strokeColor": "black", "fillColor": "white",
            "encode": {"legend": {"update": {"strokeWidth": {"value": 2}}}}}}
      }
    }
  ]
}
